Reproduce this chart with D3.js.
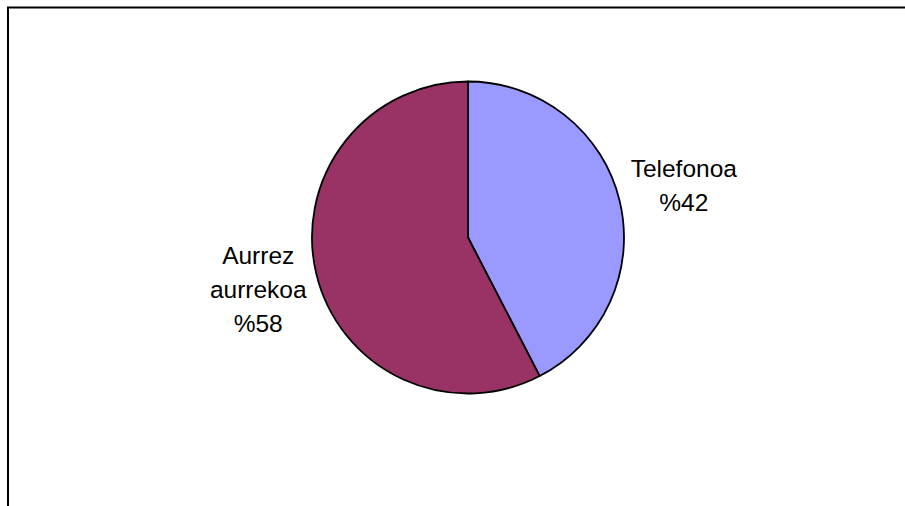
<!DOCTYPE html>
<html>
<head>
<meta charset="utf-8">
<script src="https://cdn.jsdelivr.net/npm/d3@7"></script>
<style>
  html, body { margin: 0; padding: 0; background: #fff; }
  svg { display: block; }
</style>
</head>
<body>
<svg id="chart" width="905" height="506"></svg>
<script>
const categories = ["Telefonoa", "Aurrez aurrekoa"];
const labelLines = [["Telefonoa"], ["Aurrez", "aurrekoa"]];
const values = [42.4, 57.6];
const colors = ["#9999FF", "#993366"];

const svg = d3.select("#chart");

// frame (right and bottom edges fall outside the picture)
svg.append("rect")
  .attr("x", 8).attr("y", 7.5)
  .attr("width", 1200).attr("height", 1200)
  .attr("fill", "none")
  .attr("stroke", "#000")
  .attr("stroke-width", 2);

const cx = 468, cy = 237.5, r = 156;
const g = svg.append("g").attr("transform", `translate(${cx},${cy})`);

const pie = d3.pie().sort(null).value(d => d.v);
const data = pie(values.map((v, i) => ({ v, i })));
const arc = d3.arc().innerRadius(0).outerRadius(r);
const labelArc = d3.arc().innerRadius(219).outerRadius(219);

g.selectAll("path.slice")
  .data(data)
  .enter().append("path")
  .attr("class", "slice")
  .attr("d", arc)
  .attr("fill", d => colors[d.data.i])
  .attr("stroke", "#000")
  .attr("stroke-width", 1.8)
  .attr("stroke-linejoin", "round");

const total = d3.sum(values);
const lh = 33.8;
data.forEach(d => {
  const [lx, ly] = labelArc.centroid(d);
  const lines = labelLines[d.data.i].concat(["%" + Math.round(d.data.v / total * 100)]);
  const t = g.append("text")
    .attr("text-anchor", "middle")
    .attr("font-family", "Liberation Sans, Arial, sans-serif")
    .attr("font-size", 24.5)
    .attr("fill", "#000");
  lines.forEach((s, k) => {
    t.append("tspan")
      .attr("x", lx + 3)
      .attr("y", ly + (k - (lines.length - 1) / 2) * lh + 8.5)
      .text(s);
  });
});
</script>
</body>
</html>
